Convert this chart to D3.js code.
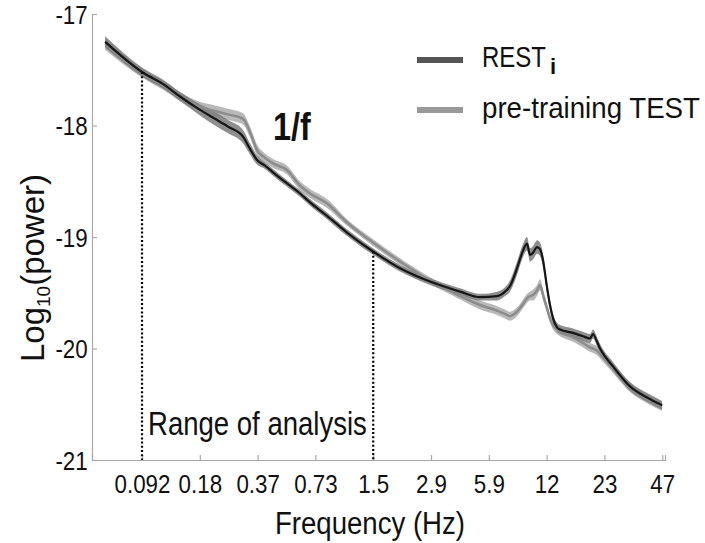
<!DOCTYPE html>
<html><head><meta charset="utf-8">
<script src="https://cdn.jsdelivr.net/npm/d3@7/dist/d3.min.js"></script>
<style>
html,body{margin:0;padding:0;background:#fff;}
svg{display:block;}
text{font-family:"Liberation Sans",Arial,Helvetica,sans-serif;fill:#111;}
</style></head>
<body>
<svg id="chart" width="705" height="543"></svg>
<script>
// ---------------- data ----------------
const freqs = [0.0591,0.092,0.1212,0.1451,0.1845,0.2208,0.2581,0.3089,0.336,0.3654,0.4021,0.4426,0.5237,0.612,0.69,0.846,1.075,1.469,2.03,2.91,4.169,5.3,6.5,7.15,7.59,8.26,8.88,9.31,9.65,10.01,10.5,10.88,11.28,11.83,12.26,12.72,13.34,13.83,16.16,18.22,19.82,20.54,21.55,22.35,26.1,32.0,39.3,47.0];
const restPower = [-17.25,-17.52,-17.64,-17.74,-17.86,-17.94,-18.01,-18.10,-18.21,-18.31,-18.36,-18.42,-18.52,-18.61,-18.69,-18.81,-18.96,-19.13,-19.28,-19.40,-19.49,-19.54,-19.53,-19.49,-19.44,-19.28,-19.12,-19.06,-19.16,-19.14,-19.09,-19.11,-19.21,-19.45,-19.61,-19.73,-19.81,-19.83,-19.86,-19.89,-19.91,-19.87,-19.94,-20.00,-20.16,-20.34,-20.44,-20.51];
const prePower  = [-17.27,-17.53,-17.65,-17.74,-17.83,-17.87,-17.90,-17.94,-18.06,-18.22,-18.29,-18.34,-18.40,-18.54,-18.61,-18.70,-18.87,-19.05,-19.22,-19.39,-19.53,-19.61,-19.66,-19.69,-19.71,-19.67,-19.60,-19.55,-19.53,-19.52,-19.48,-19.43,-19.52,-19.64,-19.73,-19.79,-19.83,-19.85,-19.90,-19.95,-19.99,-20.00,-20.02,-20.05,-20.18,-20.35,-20.45,-20.52];
const restSEM = [0.05,0.04,0.04,0.04,0.05,0.06,0.06,0.06,0.05,0.04,0.03,0.03,0.03,0.03,0.03,0.03,0.03,0.03,0.03,0.03,0.03,0.03,0.04,0.04,0.05,0.06,0.06,0.06,0.06,0.06,0.06,0.06,0.06,0.05,0.04,0.04,0.04,0.04,0.04,0.04,0.04,0.04,0.04,0.04,0.04,0.04,0.04,0.04];
const preSEM  = [0.05,0.04,0.04,0.04,0.04,0.05,0.05,0.05,0.05,0.05,0.04,0.04,0.04,0.04,0.04,0.04,0.03,0.03,0.03,0.03,0.03,0.04,0.04,0.04,0.04,0.04,0.04,0.04,0.04,0.05,0.05,0.05,0.05,0.04,0.04,0.04,0.04,0.04,0.04,0.04,0.04,0.04,0.04,0.04,0.04,0.04,0.04,0.04];
const xTickValues = [0.092,0.184,0.368,0.736,1.472,2.944,5.888,11.776,23.552,47.104];
const xTickLabels = ["0.092","0.18","0.37","0.73","1.5","2.9","5.9","12","23","47"];
const yTickValues = [-21,-20,-19,-18,-17];
const xDomain = [0.0505, 48.7];
const yDomain = [-21, -17];
const rangeFreqs = [0.092, 1.472];
const rangeTopPower = [-17.52, -19.13];
const seriesNames = ["REST", "pre-training TEST"];

// ---------------- layout ----------------
const svg = d3.select("#chart");
const L = 92, R = 665, T = 14, B = 460;
const x = d3.scaleLog().domain(xDomain).range([L, R]);
const y = d3.scaleLinear().domain(yDomain).range([B, T]);
const axisColor = "#a8a8a8";

// condensed text helper
function ctext(parent, px, py, str, size, sx, anchor) {
  return parent.append("text")
    .attr("transform", `translate(${px},${py}) scale(${sx},1)`)
    .attr("font-size", size).attr("text-anchor", anchor || "start").text(str);
}

// axes
const xAxis = svg.append("g").attr("transform", `translate(0,${B})`)
  .call(d3.axisBottom(x).tickValues(xTickValues).tickFormat((d,i)=>xTickLabels[i]).tickSize(-5).tickPadding(15));
const yAxis = svg.append("g").attr("transform", `translate(${L},0)`)
  .call(d3.axisLeft(y).tickValues(yTickValues).tickFormat(d=>d).tickSize(-5).tickPadding(5));
[xAxis, yAxis].forEach(g=>{
  g.select(".domain").attr("stroke", axisColor).attr("stroke-width", 1.2);
  g.selectAll(".tick line").attr("stroke", axisColor).attr("stroke-width", 1.2);
  g.selectAll(".tick text").attr("font-size", 26).attr("fill", "#111")
   .attr("font-family", '"Liberation Sans",Arial,sans-serif')
   .attr("transform", "scale(0.86,1)");
});
xAxis.selectAll(".tick text").attr("dy", "0.71em");
yAxis.selectAll(".tick text").attr("dy", "0.36em");

// data rows
const rows = freqs.map((f,i)=>({f, rest: restPower[i], pre: prePower[i], rs: restSEM[i], ps: preSEM[i]}));
const curve = d3.curveMonotoneX;
const area = (k, s) => d3.area().x(d=>x(d.f)).y0(d=>y(d[k]-d[s])).y1(d=>y(d[k]+d[s])).curve(curve);
const line = k => d3.line().x(d=>x(d.f)).y(d=>y(d[k])).curve(curve);

svg.append("path").datum(rows).attr("d", area("pre","ps")).attr("fill", "#b9b9b9");
svg.append("path").datum(rows).attr("d", area("rest","rs")).attr("fill", "#7a7a7a").attr("opacity", 0.85);
svg.append("path").datum(rows).attr("d", line("pre")).attr("fill","none").attr("stroke","#8c8c8c").attr("stroke-width",2.5);
svg.append("path").datum(rows).attr("d", line("rest")).attr("fill","none").attr("stroke","#161616").attr("stroke-width",2.2);

// dotted range lines
rangeFreqs.forEach((f,i)=>{
  svg.append("line").attr("x1", x(f)).attr("x2", x(f))
    .attr("y1", y(rangeTopPower[i])).attr("y2", B)
    .attr("stroke", "#000").attr("stroke-width", 2.2).attr("stroke-dasharray", "2,2.2");
});

// annotations
ctext(svg, 148, 435, "Range of analysis", 33, 0.835);
ctext(svg, 273, 140, "1/f", 38, 0.85).attr("font-weight", "bold");

// legend
const lg = svg.append("g");
const legY = [60, 110];
const legCol = ["#555", "#999"];
legY.forEach((ly,i)=>{
  lg.append("line").attr("x1", 417).attr("x2", 463).attr("y1", ly).attr("y2", ly)
    .attr("stroke", legCol[i]).attr("stroke-width", 6);
});
ctext(lg, 482, 67, seriesNames[0], 30, 0.8);
lg.append("text").attr("x", 550).attr("y", 74).attr("font-size", 22).attr("font-weight","bold")
  .attr("font-family", '"Liberation Serif","DejaVu Serif",serif').text("i");
ctext(lg, 482, 118, seriesNames[1], 29, 0.955);

// axis titles
ctext(svg, 370, 534, "Frequency (Hz)", 31, 0.89, "middle");
const yl = svg.append("text").attr("transform", "translate(44,268) rotate(-90)")
  .attr("text-anchor","middle").attr("font-size", 33);
yl.append("tspan").text("Log");
yl.append("tspan").attr("font-size", 19).attr("dy", 6).text("10");
yl.append("tspan").attr("dy", -6).text("(power)");
</script>
</body></html>
